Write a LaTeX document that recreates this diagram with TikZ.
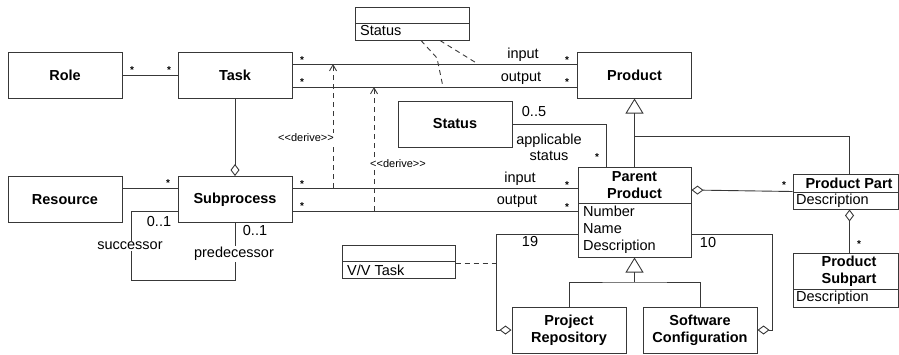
\documentclass[tikz,border=0pt]{standalone}
\usepackage{fontspec}
\setmainfont{Liberation Sans}
\usetikzlibrary{arrows.meta,calc}
\definecolor{linec}{gray}{0.22}
\tikzset{
  cls/.style={draw=linec, line width=1pt, fill=white, minimum width=114pt, minimum height=46pt, inner sep=0pt, font=\fontsize{14.5}{17}\selectfont\bfseries, align=center},
  box/.style={draw=linec, line width=1pt, fill=white, inner sep=0pt},
  hdr/.style={inner sep=0pt, font=\fontsize{14.5}{17.5}\selectfont\bfseries, align=center},
  attr/.style={inner sep=0pt, anchor=west, font=\fontsize{14.5}{17}\selectfont},
  lbl/.style={inner sep=0pt, font=\fontsize{14.5}{16}\selectfont, align=center},
  mult/.style={inner sep=0pt, font=\fontsize{10}{10}\selectfont\bfseries},
  assoc/.style={draw=linec, line width=0.9pt},
  dashline/.style={draw=linec, line width=0.9pt, dash pattern=on 5pt off 4pt},
  dlbl/.style={inner sep=0pt, font=\fontsize{11}{12}\selectfont},
  aggr/.style={assoc, -{Diamond[open,length=12pt,width=9pt]}},
  raggr/.style={assoc, {Diamond[open,length=12pt,width=9pt]}-},
  gen/.style={assoc, -{Triangle[open,length=15pt,width=18pt]}},
  deriv/.style={dashline, -{Straight Barb[length=6pt,width=7pt]}},
}
\begin{document}
\begin{tikzpicture}[x=1pt,y=-1pt]
\useasboundingbox (0,0) rectangle (899,354);

% simple classes
\node[cls] (role) at (65,75) {Role};
\node[cls] (task) at (235,75) {Task};
\node[cls] (product) at (634.5,75) {Product};
\node[cls] (status) at (455,124) {Status};
\node[cls] (resource) at (65,199.5) {Resource};
\node[cls] (subp) at (235,199.5) {Subprocess};
\node[cls] (repo) at (569,330) {Project\\Repository};
\node[cls] (soft) at (700,330) {Software\\Configuration};

% Parent Product
\node[box, minimum width=113pt, minimum height=90pt] (parent) at (634.5,212) {};
\draw[draw=linec, line width=1pt] (578,203) -- (691,203);
\node[hdr] (parentT) at (634.5,185) {Parent\\Product};
\node[attr] (pnum) at (583,211.5) {Number};
\node[attr] (pname) at (583,229) {Name};
\node[attr] (pdesc) at (583,247) {Description};

% Product Part
\node[box, minimum width=105pt, minimum height=35pt] (ppart) at (845.5,191.5) {};
\draw[draw=linec, line width=1pt] (793,192.5) -- (898,192.5);
\node[hdr] (ppartT) at (849,183) {Product Part};
\node[attr] (ppartD) at (796,201) {Description};

% Product Subpart
\node[box, minimum width=105pt, minimum height=54pt] (psub) at (845.5,280) {};
\draw[draw=linec, line width=1pt] (793,289) -- (898,289);
\node[hdr] (psubT) at (849,271) {Product\\Subpart};
\node[attr] (psubD) at (796,298) {Description};

% Status (attribute box on top)
\node[box, minimum width=114pt, minimum height=33pt] (statT) at (412,23.5) {};
\draw[draw=linec, line width=1pt] (355,23) -- (469,23);
\node[attr] (statTx) at (360,31) {Status};

% V/V Task
\node[box, minimum width=113pt, minimum height=33pt] (vv) at (398.5,261.5) {};
\draw[draw=linec, line width=1pt] (342,261) -- (455,261);
\node[attr] (vvTx) at (347,270) {V/V Task};

% Role - Task
\draw[assoc] (role) -- (task);
\node[mult] at (132,70) {*};
\node[mult] at (169,70) {*};

% Task - Product input/output
\coordinate (ti) at ([yshift=11pt]task.east);
\coordinate (to) at ([yshift=-12pt]task.east);
\draw[assoc] (ti) -- (ti -| product.west);
\draw[assoc] (to) -- (to -| product.west);
\node[mult] at (302,60) {*};
\node[mult] at (302,82) {*};
\node[mult] at (567,60) {*};
\node[mult] at (567,82) {*};
\node[lbl] at (523,55) {input};
\node[lbl] at (521,78) {output};

% Task - Subprocess aggregation
\draw[aggr] (task.south) -- (subp.north);

% Resource - Subprocess
\coordinate (ri) at ([yshift=11.5pt]resource.east);
\draw[assoc] (ri) -- (ri -| subp.west);
\node[mult] at (168,183) {*};

% Subprocess self association
\coordinate (sl) at ([yshift=-11.5pt]subp.west);
\coordinate (loopc) at (131,280);
\draw[assoc] (sl) -| (loopc) -| (subp.south);
\node[lbl] at (159,222) {0..1};
\node[lbl, fill=white, inner ysep=1pt] at (130,246) {successor};
\node[lbl] at (255,231) {0..1};
\node[lbl, fill=white, inner ysep=1pt] at (234,254) {predecessor};

% Subprocess - Parent Product input/output
\coordinate (si) at ([yshift=11.5pt]subp.east);
\coordinate (so) at ([yshift=-11.5pt]subp.east);
\draw[assoc] (si) -- (si -| parent.west);
\draw[assoc] (so) -- (so -| parent.west);
\node[mult] at (302,184) {*};
\node[mult] at (302,206) {*};
\node[mult] at (567,185) {*};
\node[mult] at (567,207) {*};
\node[lbl] at (520,179) {input};
\node[lbl] at (517,201) {output};

% derive dependencies
\coordinate (d1s) at (333,188);
\coordinate (d1e) at (333,64);
\coordinate (d2s) at (374,211);
\coordinate (d2e) at (374,87);
\draw[deriv] (d1s) -- (d1e);
\draw[deriv] (d2s) -- (d2e);
\node[dlbl, fill=white, inner ysep=1pt] at (306,138) {<{}<derive>{}>};
\node[dlbl, fill=white, inner ysep=1pt] at (398,164) {<{}<derive>{}>};

% Status attribute box dashed links
\coordinate (sa1) at ([xshift=9pt]statT.south);
\coordinate (sa1m) at (437,58);
\coordinate (sa1e) at (443,87);
\coordinate (sa2) at ([xshift=28pt]statT.south);
\coordinate (sa2e) at (478,64);
\draw[dashline] (sa1) -- (sa1m) -- (sa1e);
\draw[dashline] (sa2) -- (sa2e);

% Status - Parent Product
\draw[assoc] (status.east) -| ([xshift=-28.5pt]parent.north);
\node[lbl] at (534,112) {0..5};
\node[lbl] at (549,147) {applicable\\status};
\node[mult] at (597,157) {*};

% Generalization Product <- Parent Product, Product Part
\coordinate (g1) at (634.5,136);
\draw[gen] (parent.north) -- (product.south);
\draw[assoc] (g1) -| ([xshift=4pt]ppart.north);

% Parent Product - Product Part
\draw[raggr] ([yshift=22pt]parent.east) -- (ppart.west);
\node[mult] at (784,185) {*};

% Product Part - Product Subpart
\draw[raggr] ([xshift=4pt]ppart.south) -- ([xshift=4pt]psub.north);
\node[mult] at (859,244) {*};

% Generalization Parent Product <- Repository, Configuration
\coordinate (g2) at (634.5,282);
\draw[assoc] (repo.north) |- (g2) -| (soft.north);
\draw[gen] (g2) -- (parent.south);

% Aggregations Parent Product -> Repository / Configuration
\draw[aggr] ([yshift=-22pt]parent.west) -| ([xshift=-15pt]repo.west) -- (repo.west);
\draw[aggr] ([yshift=-22pt]parent.east) -| ([xshift=15pt]soft.east) -- (soft.east);
\node[lbl] at (530,242) {19};
\node[lbl] at (708,243) {10};

% V/V Task dashed link
\coordinate (vvt) at (497,263);
\draw[dashline] (vv.east |- vvt) -- (vvt);
\end{tikzpicture}
\end{document}
